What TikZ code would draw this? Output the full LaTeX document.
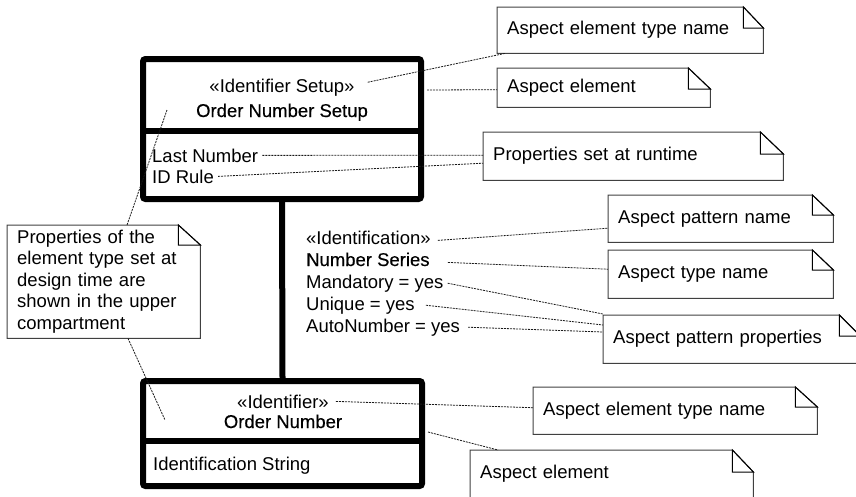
\documentclass[tikz,border=0pt]{standalone}
\usepackage{fontspec}
\setmainfont{Liberation Sans}
\newfontface\namefont{Liberation Sans}[FakeBold=0.4]
\usetikzlibrary{calc}
\newcommand\fs{\fontsize{18.5}{21}\selectfont}
\tikzset{
  umlbox/.style={draw=black, line width=6pt, rounded corners=2.5pt, inner sep=0pt},
  divider/.style={draw=black, line width=6pt},
  assoc/.style={draw=black, line width=6pt},
  lbl/.style={inner xsep=4pt, inner ysep=1pt, font=\fs},
  namelbl/.style={lbl, font=\fs\namefont},
  notebox/.style={inner xsep=10pt, inner ysep=0pt, align=left, anchor=north west, font=\fs},
  noteline/.style={draw=black!75, line width=1pt},
  notefold/.style={draw=black, line width=1pt, line join=miter},
  conn/.style={draw=black!90, line width=0.8pt, dash pattern=on 2pt off 1pt},
}
% #1 node name, #2 fold width, #3 fold depth
\newcommand\umlnote[3]{%
  \draw[noteline] (#1.north west) -- ($(#1.north east)+(-#2,0)$) -- ($(#1.north east)+(0,#3)$)
     -- (#1.south east) -- (#1.south west) -- cycle;
  \draw[notefold] ($(#1.north east)+(-#2,0)$) |- ($(#1.north east)+(0,#3)$) -- cycle;
}
\begin{document}
\begin{tikzpicture}[x=1pt,y=-1pt]
\useasboundingbox (0,0) rectangle (856,496);

% ---------- top element ----------
\node[umlbox, minimum width=278pt, minimum height=140pt] (setup) at (282,129) {};
\draw[divider] ($(setup.north west)+(0,75)$) -- ($(setup.north east)+(0,75)$);
\node[lbl, anchor=base] (sthead) at (282,92) {«Identifier Setup»};
\node[namelbl, anchor=base] (stname) at (282,117) {Order Number Setup};
\node[lbl, anchor=base west] (lastnum) at (148,162) {Last Number};
\node[lbl, anchor=base west] (idrule) at (148,183) {ID Rule};

% ---------- bottom element ----------
\node[umlbox, minimum width=279pt, minimum height=105pt] (ident) at (282.5,433.5) {};
\draw[divider] ($(ident.north west)+(0,63)$) -- ($(ident.north east)+(0,63)$);
\node[lbl, anchor=base] (bhead) at (283,408) {«Identifier»};
\node[namelbl, anchor=base] (bname) at (283,428) {Order Number};
\node[lbl, anchor=base west] (idstr) at (149,470) {Identification String};

% ---------- association ----------
\draw[assoc] (setup.south) -- (ident.north);

% ---------- aspect labels ----------
\node[lbl, anchor=base west] (pident) at (302,244) {«Identification»};
\node[namelbl, anchor=base west] (pser) at (302,266) {Number Series};
\node[lbl, anchor=base west] (pmand) at (302,288) {Mandatory = yes};
\node[lbl, anchor=base west] (puniq) at (302,310) {Unique = yes};
\node[lbl, anchor=base west] (pauto) at (302,332) {AutoNumber = yes};

% ---------- notes ----------
\node[notebox, text width=246pt, minimum height=46pt] (note1) at (497,7) {Aspect element type name};
\umlnote{note1}{20}{21}
\node[notebox, text width=193pt, minimum height=39pt] (note2) at (497,68) {Aspect element};
\umlnote{note2}{22}{21}
\node[notebox, text width=280pt, minimum height=48pt] (note3) at (483,132) {Properties set at runtime};
\umlnote{note3}{23}{22}
\node[notebox, text width=205pt, minimum height=47pt] (note4) at (608,195) {Aspect pattern name};
\umlnote{note4}{21}{20}
\node[notebox, text width=205pt, minimum height=48pt] (note5) at (608,250) {Aspect type name};
\umlnote{note5}{21}{20}
\node[notebox, text width=237pt, minimum height=48pt] (note6) at (603,315) {Aspect pattern properties};
\umlnote{note6}{21}{21}
\node[notebox, text width=173pt, minimum height=113pt, font=\fontsize{18.5}{21.5}\selectfont] (note7) at (7,225)
  {Properties of the\\element type set at\\design time are\\shown in the upper\\compartment};
\umlnote{note7}{22}{20}
\node[notebox, text width=264pt, minimum height=47pt] (note8) at (533,387) {Aspect element type name};
\umlnote{note8}{22}{20}
\node[notebox, text width=263pt, minimum height=48pt] (note9) at (470,450) {Aspect element};
\umlnote{note9}{21}{22}

% ---------- connectors ----------
\draw[conn] ($(sthead.east)+(9,-5)$) -- ($(note1.south west)+(8,0)$);
\draw[conn] ($(setup.north east)+(3,34)$) -- ($(note2.west)+(0,2)$);
\draw[conn] (lastnum.east) -- ($(note3.west)+(0,-1)$);
\draw[conn] (idrule.east) -- ($(note3.west)+(0,7)$);
\draw[conn] ($(pident.east)+(3,3)$) -- ($(note4.west)+(0,9.5)$);
\draw[conn] ($(pser.east)+(14,3)$) -- ($(note5.west)+(0,-5)$);
\draw[conn] (pmand.east) -- ($(note6.north west)+(0,-1)$);
\draw[conn] ($(puniq.east)+(7,0)$) -- ($(note6.north west)+(0,10)$);
\draw[conn] ($(pauto.east)+(4,0)$) -- ($(note6.north west)+(0,17)$);
\draw[conn] ($(bhead.east)+(3,0)$) -- ($(note8.west)+(0,-3)$);
\draw[conn] ($(ident.north east)+(3,54)$) -- ($(note9.north west)+(28,0)$);
\draw[conn] ($(note7.north west)+(120,0)$) -- ($(setup.north west)+(27,54)$);
\draw[conn] ($(note7.south west)+(121,0)$) -- ($(ident.north west)+(25,42)$);
\end{tikzpicture}
\end{document}
